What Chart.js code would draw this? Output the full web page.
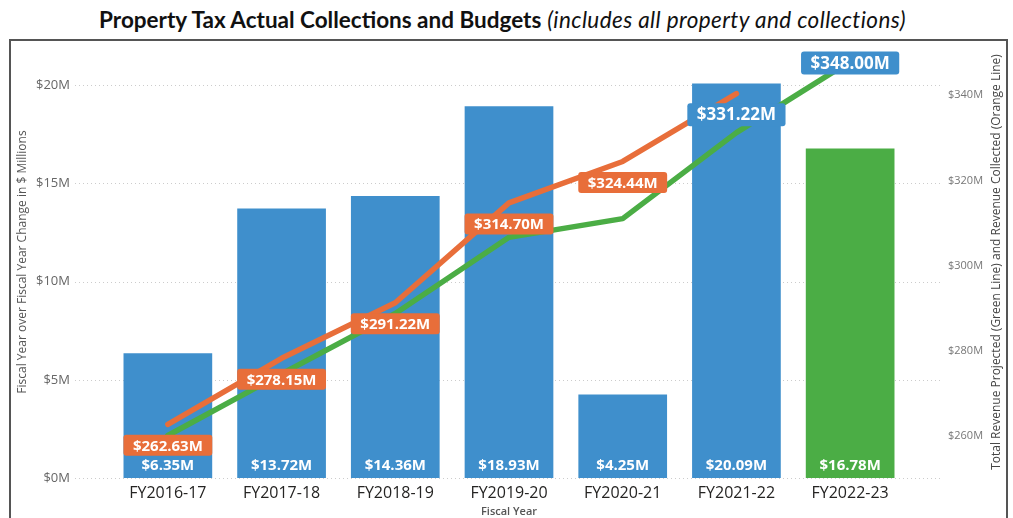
<!DOCTYPE html>
<html>
<head>
<meta charset="utf-8">
<script src="https://cdn.jsdelivr.net/npm/chart.js@4.4.1/dist/chart.umd.min.js"></script>
<style>
  body { margin: 0; background: #fff; }
  #wrap { position: relative; width: 1013px; height: 518px; overflow: hidden; }
  #title {
    position: absolute; top: 6px; left: -4px; width: 1013px;
    text-align: center; font-family: Lato, sans-serif; font-size: 22.5px;
    color: #111; white-space: nowrap;
  }
  #title b { font-weight: bold; }
  #title i { font-weight: normal; letter-spacing: 0.4px; }
  #frame {
    position: absolute; left: 9px; top: 39px; width: 995px; height: 600px;
    border: 2px solid #555;
  }
  canvas { position: absolute; left: 0; top: 0; }
</style>
</head>
<body>
<div id="wrap">
  <div id="title"><b>Property Tax Actual Collections and Budgets</b> <i>(includes all property and collections)</i></div>
  <div id="frame"></div>
  <canvas id="taxChart" width="1013" height="518"></canvas>
</div>
<script>
// Fiscal years and values ($ millions)
const fiscalYears = ["FY2016-17", "FY2017-18", "FY2018-19", "FY2019-20", "FY2020-21", "FY2021-22", "FY2022-23"];
const yoyChange = [6.35, 13.72, 14.36, 18.93, 4.25, 20.09, 16.78];
const revenueCollected = [262.63, 278.15, 291.22, 314.70, 324.44, 340.4, null];
const revenueProjected = [260.0, 274.5, 288.7, 306.6, 311.0, 331.22, 348.0];

const leftTicks = [0, 5, 10, 15, 20];
const rightTicks = [260, 280, 300, 320, 340];

// which line points carry a value tag
const collectedTagged = [0, 1, 2, 3, 4];
const projectedTagged = [5, 6];

const BLUE = "#3F8FCC";
const GREEN = "#4BAD45";
const ORANGE = "#E86E3A";
const RIGHT_TITLE = "Total Revenue Projected (Green Line) and Revenue Collected (Orange Line)";

Chart.defaults.font.family = "'Open Sans', sans-serif";
Chart.defaults.color = "#666";

const money = (v) => "$" + v.toFixed(2) + "M";

// dotted horizontal guides at the left-axis ticks, running a bit past the plot
const dottedGrid = {
  id: "dottedGrid",
  beforeDatasetsDraw(chart) {
    const { ctx, chartArea, scales } = chart;
    ctx.save();
    ctx.strokeStyle = "#cccccc";
    ctx.lineWidth = 1;
    ctx.setLineDash([1, 3]);
    scales.y.ticks.forEach((t) => {
      const py = Math.round(scales.y.getPixelForValue(t.value)) + 0.5;
      ctx.beginPath();
      ctx.moveTo(chartArea.left - 36, py);
      ctx.lineTo(chartArea.right + 33, py);
      ctx.stroke();
    });
    ctx.restore();
  },
};

// right axis title reads bottom-to-top
const rightTitle = {
  id: "rightTitle",
  afterDraw(chart) {
    const { ctx, chartArea, scales } = chart;
    ctx.save();
    ctx.translate(scales.y1.right - 8, (chartArea.top + chartArea.bottom) / 2);
    ctx.rotate(-Math.PI / 2);
    ctx.font = "12px 'Open Sans', sans-serif";
    ctx.fillStyle = "#444";
    ctx.textAlign = "center";
    ctx.textBaseline = "middle";
    ctx.fillText(RIGHT_TITLE, 0, 0);
    ctx.restore();
  },
};

function drawTag(ctx, text, x, y, size, bg) {
  ctx.font = "bold " + size + "px 'Open Sans', sans-serif";
  const w = ctx.measureText(text).width + 19;
  const h = size + 6;
  ctx.fillStyle = bg;
  ctx.beginPath();
  ctx.roundRect(x - w / 2, y - h / 2, w, h, 3);
  ctx.fill();
  ctx.fillStyle = "#fff";
  ctx.fillText(text, x, y + 1);
}

// value labels: inside the bars, and boxed tags on the two lines
const valueTags = {
  id: "valueTags",
  afterDatasetsDraw(chart) {
    const { ctx, chartArea } = chart;
    ctx.save();
    ctx.textAlign = "center";
    ctx.textBaseline = "middle";

    ctx.font = "bold 15px 'Open Sans', sans-serif";
    ctx.fillStyle = "#fff";
    chart.getDatasetMeta(0).data.forEach((bar, i) => {
      ctx.fillText(money(yoyChange[i]), bar.x, bar.base - 12);
    });

    const collected = chart.getDatasetMeta(2).data;
    collectedTagged.forEach((i) => {
      const p = collected[i];
      drawTag(ctx, money(revenueCollected[i]), p.x, p.y + 21, 15, ORANGE);
    });

    const projected = chart.getDatasetMeta(1).data;
    projectedTagged.forEach((i) => {
      const p = projected[i];
      const y = Math.max(p.y - 18, chartArea.top + 17);
      drawTag(ctx, money(revenueProjected[i]), p.x, y, 17, BLUE);
    });
    ctx.restore();
  },
};

new Chart(document.getElementById("taxChart"), {
  type: "bar",
  data: {
    labels: fiscalYears,
    datasets: [
      {
        label: "Fiscal Year over Fiscal Year Change",
        data: yoyChange,
        backgroundColor: fiscalYears.map((_, i) => (i === fiscalYears.length - 1 ? GREEN : BLUE)),
        barPercentage: 0.78,
        categoryPercentage: 1,
        yAxisID: "y",
        order: 3,
      },
      {
        type: "line",
        label: "Total Revenue Projected",
        data: revenueProjected,
        borderColor: GREEN,
        borderWidth: 5.5,
        pointRadius: 0,
        borderCapStyle: "round",
        borderJoinStyle: "round",
        yAxisID: "y1",
        order: 2,
      },
      {
        type: "line",
        label: "Revenue Collected",
        data: revenueCollected,
        borderColor: ORANGE,
        borderWidth: 5.5,
        pointRadius: 0,
        borderCapStyle: "round",
        borderJoinStyle: "round",
        yAxisID: "y1",
        order: 1,
      },
    ],
  },
  options: {
    responsive: false,
    animation: false,
    layout: { padding: { left: 10, right: 8, top: 46, bottom: 0 } },
    plugins: {
      legend: { display: false },
      tooltip: { enabled: false },
    },
    scales: {
      x: {
        grid: { display: false, drawTicks: false },
        border: { display: false },
        ticks: { color: "#252423", font: { size: 16 }, padding: 6 },
        title: {
          display: true,
          text: "Fiscal Year",
          color: "#555",
          font: { size: 11, weight: "600" },
          padding: 0,
        },
        afterFit: (s) => { s.height = 40; },
      },
      y: {
        position: "left",
        min: 0,
        max: 22,
        // tick length only spaces the labels away from the plot
        grid: { display: false, drawTicks: true, tickLength: 41 },
        border: { display: false },
        afterBuildTicks: (s) => { s.ticks = leftTicks.map((v) => ({ value: v })); },
        ticks: {
          color: "#666",
          font: { size: 13 },
          padding: 0,
          callback: (v) => "$" + v + "M",
        },
        title: {
          display: true,
          text: "Fiscal Year over Fiscal Year Change in $ Millions",
          color: "#555",
          font: { size: 12 },
          padding: 5,
        },
        afterFit: (s) => { s.width = 101; },
      },
      y1: {
        position: "right",
        min: 250,
        max: 351.6,
        grid: { display: false, drawTicks: true, tickLength: 41 },
        border: { display: false },
        afterBuildTicks: (s) => { s.ticks = rightTicks.map((v) => ({ value: v })); },
        ticks: {
          color: "#777",
          font: { size: 11 },
          padding: 0,
          callback: (v) => "$" + v + "M",
        },
        afterFit: (s) => { s.width = 98; },
      },
    },
  },
  plugins: [dottedGrid, valueTags, rightTitle],
});
</script>
</body>
</html>
